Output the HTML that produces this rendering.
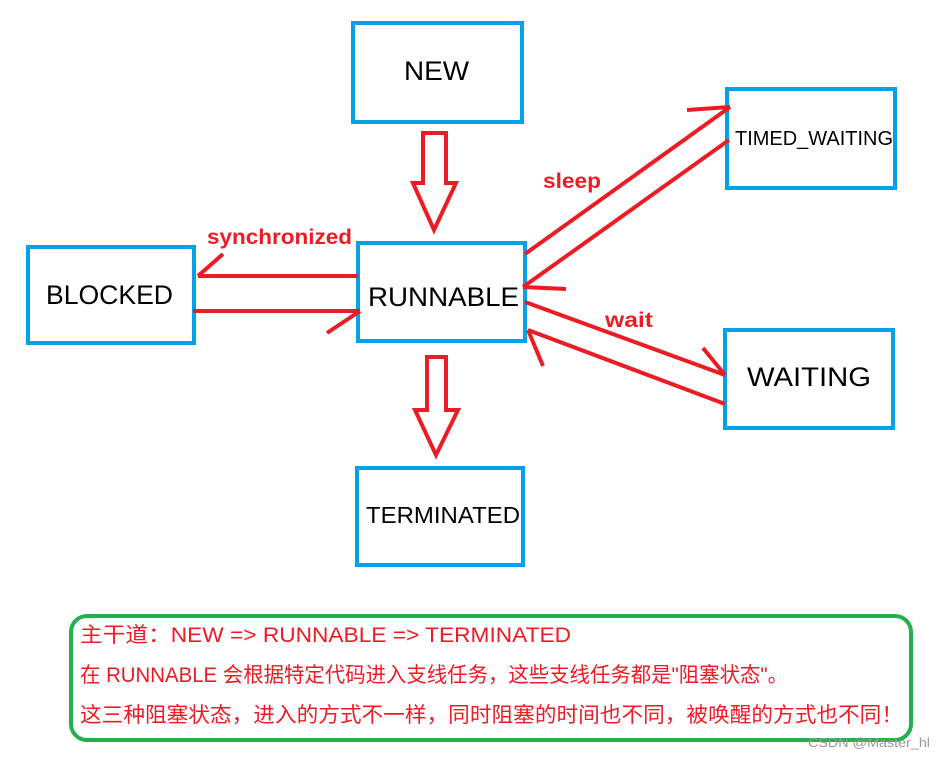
<!DOCTYPE html>
<html><head><meta charset="utf-8"><style>
html,body{margin:0;padding:0;background:#fff;}
svg{display:block}
</style></head><body>
<svg width="944" height="757" xmlns="http://www.w3.org/2000/svg" font-family="Liberation Sans, Noto Sans CJK SC, sans-serif">
<g fill="none" stroke="#00a2e8" stroke-width="4">
<rect x="353" y="23" width="169" height="99"/>
<rect x="358" y="243" width="167" height="98"/>
<rect x="28" y="247" width="166" height="96"/>
<rect x="727" y="89" width="168" height="99"/>
<rect x="725" y="330" width="168" height="98"/>
<rect x="357" y="468" width="166" height="97"/>
</g>
<g font-size="27" fill="#000">
<text x="404" y="80" textLength="65" lengthAdjust="spacingAndGlyphs">NEW</text>
<text x="368" y="306" textLength="151" lengthAdjust="spacingAndGlyphs">RUNNABLE</text>
<text x="46" y="304" textLength="127" lengthAdjust="spacingAndGlyphs">BLOCKED</text>
<text x="747" y="386" textLength="124" lengthAdjust="spacingAndGlyphs">WAITING</text>
</g>
<text x="735" y="145" font-size="20" textLength="158" lengthAdjust="spacingAndGlyphs">TIMED_WAITING</text>
<text x="366" y="523" font-size="23" textLength="154" lengthAdjust="spacingAndGlyphs">TERMINATED</text>
<g fill="none" stroke="#ed1c24" stroke-width="4" stroke-linejoin="miter">
<polygon points="423,133 446,133 446,183 456,183 434,230 413,183 423,183"/>
<polygon points="427,357 446,357 446,410 458,410 436,455 415,410 427,410"/>
<path d="M358,276 L198,276 M198,276 L223,254"/>
<path d="M193,311 L360,311 M360,311 L327,333"/>
<path d="M525,254 L730,107 M730,107 L687,110"/>
<path d="M729,140 L523,287 M523,287 L566,289"/>
<path d="M525,302 L725,375 M725,375 L703,348"/>
<path d="M725,404 L528,330 M528,330 L543,366"/>
</g>
<g fill="#ed1c24" font-weight="bold" font-size="21">
<text x="207" y="244" textLength="145" lengthAdjust="spacingAndGlyphs">synchronized</text>
<text x="543" y="188" textLength="58" lengthAdjust="spacingAndGlyphs">sleep</text>
<text x="605" y="327" textLength="48" lengthAdjust="spacingAndGlyphs">wait</text>
</g>
<rect x="71" y="616" width="840" height="124" rx="16" fill="none" stroke="#22b14c" stroke-width="4"/>
<g fill="#ed1c24" font-size="21">
<text x="80" y="642" textLength="491" lengthAdjust="spacingAndGlyphs">主干道：NEW =&gt; RUNNABLE =&gt; TERMINATED</text>
<text x="80" y="682" textLength="708" lengthAdjust="spacingAndGlyphs">在 RUNNABLE 会根据特定代码进入支线任务，这些支线任务都是"阻塞状态"。</text>
<text x="80" y="722" textLength="823" lengthAdjust="spacingAndGlyphs">这三种阻塞状态，进入的方式不一样，同时阻塞的时间也不同，被唤醒的方式也不同！</text>
</g>
<text x="808" y="747" font-size="13" fill="#999" textLength="122" lengthAdjust="spacingAndGlyphs">CSDN @Master_hl</text>
</svg>
</body></html>
